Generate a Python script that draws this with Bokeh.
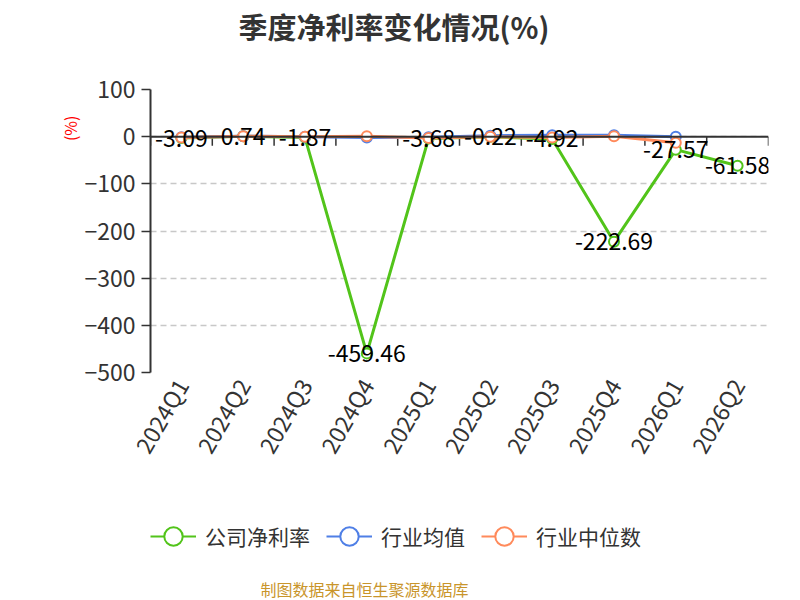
from bokeh.plotting import figure
from bokeh.models import (ColumnDataSource, FixedTicker, Legend, LegendItem,
                          Range1d, LabelSet, Span, Title)
from bokeh.layouts import column
from bokeh.embed import file_html
from bokeh.resources import INLINE
from bokeh.core.properties import value
import math

quarters = ["2024Q1", "2024Q2", "2024Q3", "2024Q4", "2025Q1",
            "2025Q2", "2025Q3", "2025Q4", "2026Q1", "2026Q2"]
company = [-3.09, 0.74, -1.87, -459.46, -3.68, -0.22, -4.92, -222.69, -27.57, -61.58]
industry_avg = [-1, 1, 0, -2, -1, 2, 3, 3, 0]
industry_med = [-2, 1, 0, 1, -3, 0, -2, 1, -13]
y_ticks = [100, 0, -100, -200, -300, -400, -500]
series_names = ["公司净利率", "行业均值", "行业中位数"]

FONT = "Noto Sans CJK SC"
GREEN = "#52c41a"
BLUE = "#4f7fe6"
ORANGE = "#ff8a5b"
colors = [GREEN, BLUE, ORANGE]

xs = [i + 0.5 for i in range(len(quarters))]
bounds = list(range(len(quarters) + 1))

FW, FH = 618, 283
uy = 600 / FH

p = figure(width=800, height=492, output_backend="svg", toolbar_location=None,
           x_range=Range1d(0, len(quarters)), y_range=Range1d(-500, 100),
           min_border_left=150, min_border_right=32, min_border_top=89, min_border_bottom=120)
p.outline_line_color = None
p.background_fill_color = "white"

p.title.text = "季度净利率变化情况(%)"
p.title.align = "left"
p.title.offset = 88
p.title.standoff = 0
p.title.vertical_align = "top"
p.title.text_font = FONT
p.title.text_font_size = "29px"
p.title.text_color = "#333333"
p.title.text_font_style = "bold"

# spacer between the title and the plot area
spacer = Title(text=" ", text_font_size="1px", standoff=38)
p.add_layout(spacer, "above")

unit = Title(text="(%)", align="right", offset=26, standoff=0, text_font=FONT,
             text_font_size="16px", text_color="red", text_font_style="normal")
p.add_layout(unit, "left")

# grid
p.xgrid.visible = False
p.ygrid.ticker = FixedTicker(ticks=y_ticks)
p.ygrid.grid_line_color = "#c8c8c8"
p.ygrid.grid_line_dash = "6 4"
p.ygrid.grid_line_width = 1.3

# y axis
p.yaxis.ticker = FixedTicker(ticks=y_ticks)
p.yaxis.axis_line_color = "#333333"
p.yaxis.axis_line_width = 2
p.yaxis.major_tick_line_color = "#333333"
p.yaxis.major_tick_line_width = 1.5
p.yaxis.major_tick_in = 0
p.yaxis.major_tick_out = 9
p.yaxis.minor_tick_line_color = None
p.yaxis.major_label_text_font = FONT
p.yaxis.major_label_text_font_size = "23px"
p.yaxis.major_label_text_color = "#333333"
p.yaxis.major_label_standoff = 6

# bottom label axis
p.xaxis.ticker = FixedTicker(ticks=xs)
p.xaxis.major_label_overrides = {x: q for x, q in zip(xs, quarters)}
p.xaxis.axis_line_color = None
p.xaxis.major_tick_line_color = None
p.xaxis.minor_tick_line_color = None
p.xaxis.major_label_orientation = math.pi / 3
p.xaxis.major_label_text_font = FONT
p.xaxis.major_label_text_font_size = "23px"
p.xaxis.major_label_text_color = "#333333"
p.xaxis.major_label_standoff = 2

# zero axis line with ticks at category boundaries
p.add_layout(Span(location=0, dimension="width", line_color="#333333", line_width=2))
p.segment(x0=bounds, y0=[0] * len(bounds), x1=bounds, y1=[-9 * uy] * len(bounds),
          line_color="#333333", line_width=1.5)

src_c = ColumnDataSource(dict(x=xs, y=company, t=[f"{v:.2f}" for v in company]))
src_a = ColumnDataSource(dict(x=xs[:len(industry_avg)], y=industry_avg))
src_m = ColumnDataSource(dict(x=xs[:len(industry_med)], y=industry_med))
sources = [src_c, src_a, src_m]

for src, col in zip(sources, colors):
    p.line("x", "y", source=src, line_color=col, line_width=3)
    p.scatter("x", "y", source=src, size=10, fill_color="white", line_color=col, line_width=2)

labels = LabelSet(x="x", y="y", text="t", source=src_c, text_align="center",
                  text_baseline="middle", text_font=value(FONT), text_font_size="23px",
                  text_color="black")
p.add_layout(labels)

# legend strip + footer (same series, drawn out of view so only the legend shows)
p2 = figure(width=800, height=108, output_backend="svg", toolbar_location=None,
            x_range=Range1d(0, len(quarters)), y_range=Range1d(5000, 6000), title=None,
            min_border_left=150, min_border_right=32, min_border_top=0, min_border_bottom=0)
p2.axis.visible = False
p2.grid.visible = False
p2.outline_line_color = None
items = []
for name, src, col in zip(series_names, sources, colors):
    r1 = p2.line("x", "y", source=src, line_color=col, line_width=2)
    r2 = p2.scatter("x", "y", source=src, fill_color="white", line_color=col, line_width=2)
    items.append(LegendItem(label=name, renderers=[r1, r2]))
legend = Legend(items=items, orientation="horizontal", location=(0, 14),
                label_text_font=FONT, label_text_font_size="21px", label_text_color="#333333",
                glyph_width=46, glyph_height=48, label_standoff=9, spacing=16, padding=0,
                margin=0, border_line_color=None, background_fill_alpha=0)
p2.add_layout(legend)
footer = Title(text="制图数据来自恒生聚源数据库", align="left", offset=110, standoff=0,
               text_font=FONT, text_font_size="16px", text_color="#c9952b",
               text_font_style="normal")
p2.add_layout(footer, "below")

open("out.html", "w").write(file_html(column(p, p2, spacing=0), INLINE))
